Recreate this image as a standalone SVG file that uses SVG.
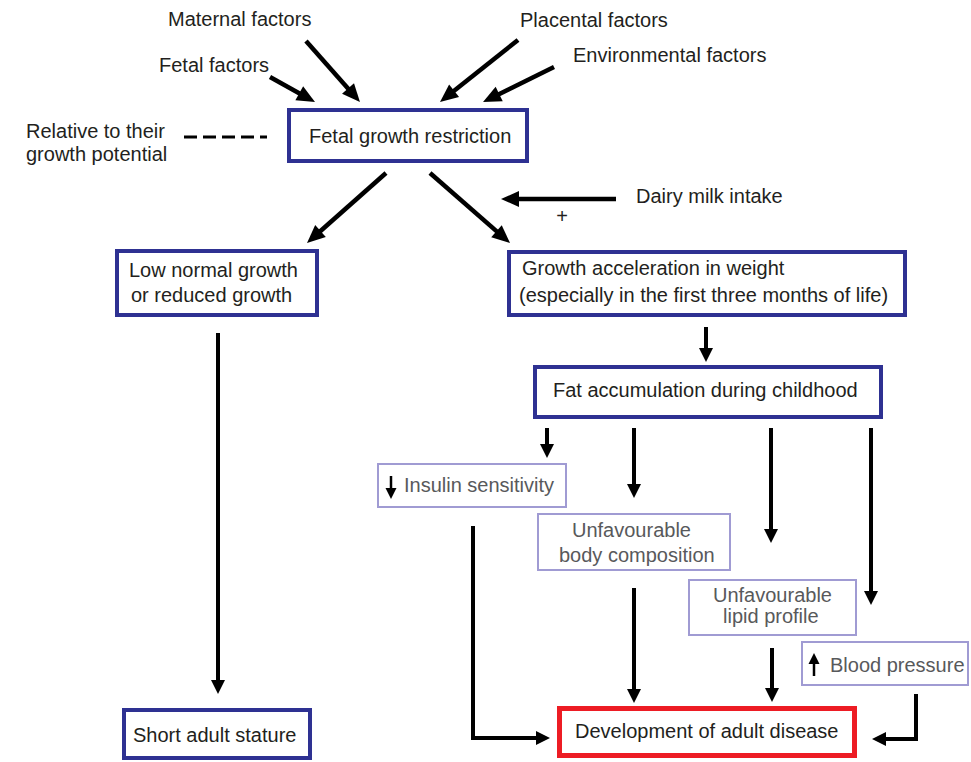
<svg xmlns="http://www.w3.org/2000/svg" width="971" height="762" viewBox="0 0 971 762">
<defs>
<style>
text{font-family:"Liberation Sans",Arial,sans-serif;font-size:20px;fill:#231f20}
.g{fill:#58595b}
.main{fill:#fff;stroke:#2e3192;stroke-width:4}
.sub{fill:#fff;stroke:#a09bd3;stroke-width:2}
.red{fill:#fff;stroke:#ed1c24;stroke-width:5}
.lnd{fill:none;stroke:#000;stroke-width:4.5;marker-end:url(#ahL)}
.lnv{fill:none;stroke:#000;stroke-width:4;marker-end:url(#ah)}
.sm{fill:none;stroke:#000;stroke-width:2.5;marker-end:url(#ahS)}
</style>
<marker id="ah" markerUnits="userSpaceOnUse" markerWidth="14" markerHeight="14" refX="4" refY="7" orient="auto" overflow="visible"><path d="M0,0 L14,7 L0,14 z" fill="#000"/></marker>
<marker id="ahL" markerUnits="userSpaceOnUse" markerWidth="18" markerHeight="16" refX="6" refY="8" orient="auto" overflow="visible"><path d="M0,0 L18,8 L0,16 z" fill="#000"/></marker>
<marker id="ahS" markerUnits="userSpaceOnUse" markerWidth="11" markerHeight="11" refX="3" refY="5.5" orient="auto" overflow="visible"><path d="M0,0 L11,5.5 L0,11 z" fill="#000"/></marker>
</defs>
<rect width="971" height="762" fill="#fff"/>

<g id="labels">
<text x="168" y="26">Maternal factors</text>
<text x="520" y="27">Placental factors</text>
<text x="159" y="72">Fetal factors</text>
<text x="573" y="62">Environmental factors</text>
<text x="26" y="138">Relative to their</text>
<text x="26" y="161">growth potential</text>
<text x="636" y="203">Dairy milk intake</text>
<text x="562" y="223" text-anchor="middle">+</text>
</g>

<g id="connectors">
<line x1="184" y1="137" x2="267" y2="137" stroke="#000" stroke-width="3" stroke-dasharray="13 6"/>
<line class="lnd" x1="270" y1="77" x2="304.5" y2="96.2"/>
<line class="lnd" x1="306" y1="41" x2="352" y2="93"/>
<line class="lnd" x1="518" y1="40" x2="449.4" y2="94.5"/>
<line class="lnd" x1="554" y1="67" x2="493.8" y2="96.7"/>
<line class="lnd" x1="386" y1="173" x2="316" y2="235"/>
<line class="lnd" x1="430" y1="173" x2="501" y2="235.1"/>
<line class="lnd" x1="616" y1="199" x2="513" y2="199"/>
<line class="lnv" x1="218" y1="333" x2="218" y2="684"/>
<line class="lnv" x1="706" y1="327" x2="706" y2="352"/>
<line class="lnv" x1="547" y1="428" x2="547" y2="448"/>
<line class="lnv" x1="634" y1="428" x2="634" y2="488"/>
<line class="lnv" x1="771" y1="428" x2="771" y2="533"/>
<line class="lnv" x1="871" y1="428" x2="871" y2="595"/>
<path class="lnv" d="M473,526 V738 H540" stroke-linejoin="miter"/>
<line class="lnv" x1="634" y1="588" x2="634" y2="693"/>
<line class="lnv" x1="772" y1="648" x2="772" y2="692"/>
<path class="lnv" d="M916,694 V739 H882" stroke-linejoin="miter"/>
</g>

<g id="fgr"><rect class="main" x="289" y="110" width="238" height="51"/><text x="309" y="143">Fetal growth restriction</text></g>
<g id="low"><rect class="main" x="117" y="251" width="200" height="64"/><text x="129" y="277">Low normal growth</text><text x="131" y="302">or reduced growth</text></g>
<g id="accel"><rect class="main" x="509" y="252" width="396" height="63"/><text x="522" y="275">Growth acceleration in weight</text><text x="519" y="302">(especially in the first three months of life)</text></g>
<g id="fat"><rect class="main" x="535" y="367" width="346" height="50"/><text x="553" y="397">Fat accumulation during childhood</text></g>
<g id="short"><rect class="main" x="124" y="710" width="186" height="48"/><text x="133" y="742">Short adult stature</text></g>
<g id="insulin"><rect class="sub" x="378" y="464" width="188" height="43"/><line class="sm" x1="391" y1="476" x2="391" y2="491"/><text class="g" x="404" y="492">Insulin sensitivity</text></g>
<g id="body"><rect class="sub" x="538" y="514" width="192" height="56"/><text class="g" x="572" y="537">Unfavourable</text><text class="g" x="559" y="562">body composition</text></g>
<g id="lipid"><rect class="sub" x="689" y="580" width="167" height="55"/><text class="g" x="713" y="602">Unfavourable</text><text class="g" x="723" y="623">lipid profile</text></g>
<g id="bp"><rect class="sub" x="802" y="642" width="166" height="43"/><line class="sm" x1="814" y1="676" x2="814" y2="661"/><text class="g" x="830" y="672">Blood pressure</text></g>
<g id="disease"><rect class="red" x="559.5" y="708.5" width="295" height="47"/><text x="575" y="738">Development of adult disease</text></g>
</svg>
